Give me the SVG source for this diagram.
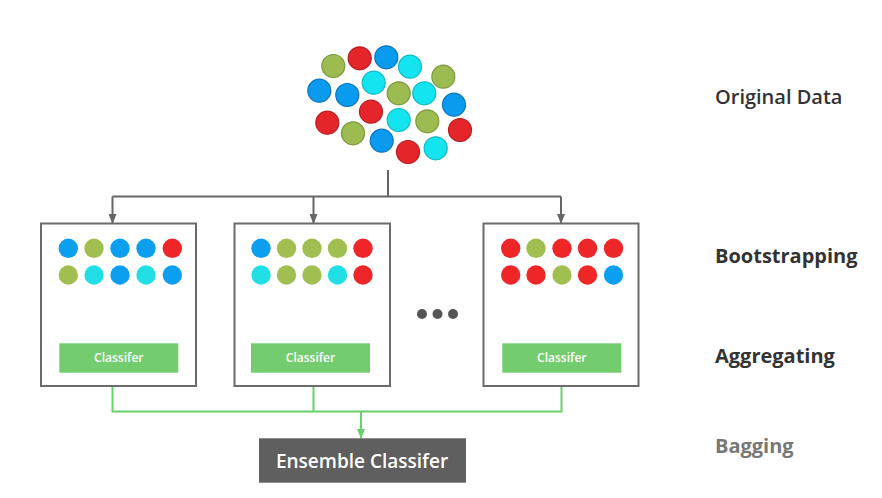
<svg xmlns="http://www.w3.org/2000/svg" width="882" height="498" viewBox="0 0 882 498">
<style>
.r{fill:#e4262a;stroke:#b81c20;stroke-width:1.2}
.b{fill:#0a9aee;stroke:#0a72bd;stroke-width:1.2}
.g{fill:#9cbb51;stroke:#7b983a;stroke-width:1.2}
.c{fill:#14e4ef;stroke:#0fb8c4;stroke-width:1.2}
.dr{fill:#ee2628}
.db{fill:#0d9fef}
.dg{fill:#a0bf50}
.dc{fill:#22dfe6}
.box{fill:#fff;stroke:#6b6b6b;stroke-width:2}
.cls{fill:#73cd6f}
.clt{font-family:"Open Sans","DejaVu Sans",sans-serif;font-size:12px;font-weight:600;fill:#fff;text-anchor:middle}
.lbl{font-family:"Open Sans","DejaVu Sans",sans-serif;font-size:20px;font-weight:600;fill:#333}
.bold{font-weight:bold}
.gc{fill:none;stroke:#6bd06a;stroke-width:2}
.dc2{fill:none;stroke:#666;stroke-width:2}
</style>
<defs>
<marker id="ag" markerWidth="10" markerHeight="8" refX="9" refY="4" orient="auto" markerUnits="userSpaceOnUse"><path d="M0,0 L10,4 L0,8 z" fill="#666"/></marker>
<marker id="agr" markerWidth="10" markerHeight="8" refX="9" refY="4" orient="auto" markerUnits="userSpaceOnUse"><path d="M0,0 L10,4 L0,8 z" fill="#6bd06a"/></marker>
</defs>
<rect width="882" height="498" fill="#fff"/>
<g id="original-data">
<circle class="g" cx="333.3" cy="66" r="11.5"/>
<circle class="r" cx="359.7" cy="58.3" r="11.5"/>
<circle class="b" cx="386.3" cy="57.3" r="11.5"/>
<circle class="c" cx="410" cy="66.7" r="11.5"/>
<circle class="g" cx="443.3" cy="76.7" r="11.5"/>
<circle class="c" cx="373.7" cy="82.7" r="11.5"/>
<circle class="b" cx="319.3" cy="90.7" r="11.5"/>
<circle class="b" cx="347.3" cy="95" r="11.5"/>
<circle class="g" cx="398.7" cy="93.3" r="11.5"/>
<circle class="c" cx="424.3" cy="93.3" r="11.5"/>
<circle class="b" cx="454" cy="104.7" r="11.5"/>
<circle class="r" cx="371" cy="111.7" r="11.5"/>
<circle class="r" cx="327.3" cy="122.7" r="11.5"/>
<circle class="c" cx="398.7" cy="120" r="11.5"/>
<circle class="g" cx="427.3" cy="121.3" r="11.5"/>
<circle class="r" cx="460" cy="130" r="11.5"/>
<circle class="g" cx="353" cy="133.3" r="11.5"/>
<circle class="b" cx="381.7" cy="140.7" r="11.5"/>
<circle class="r" cx="408" cy="152" r="11.5"/>
<circle class="c" cx="435.7" cy="148.3" r="11.5"/>
</g>
<g id="connectors">
<path class="dc2" d="M388,170 V196.5 M112.5,196.5 H561"/>
<path class="dc2" d="M112.5,196.5 V223" marker-end="url(#ag)"/>
<path class="dc2" d="M313.5,196.5 V223" marker-end="url(#ag)"/>
<path class="dc2" d="M561,196.5 V223" marker-end="url(#ag)"/>
<path class="gc" d="M112.5,373 V411.5 H561.5 V373 M313.5,373 V411.5"/>
<path class="gc" d="M361,411.5 V438" marker-end="url(#agr)"/>
</g>
<g id="sample-1">
<rect class="box" x="41" y="223.5" width="155" height="162.5"/>
<circle class="db" cx="68.3" cy="248.3" r="9.7"/>
<circle class="dg" cx="94" cy="248.3" r="9.7"/>
<circle class="db" cx="120" cy="248.3" r="9.7"/>
<circle class="db" cx="146" cy="248.3" r="9.7"/>
<circle class="dr" cx="172.3" cy="248.3" r="9.7"/>
<circle class="dg" cx="68.3" cy="275" r="9.7"/>
<circle class="dc" cx="94" cy="275" r="9.7"/>
<circle class="db" cx="120" cy="275" r="9.7"/>
<circle class="dc" cx="146" cy="275" r="9.7"/>
<circle class="db" cx="172.3" cy="275" r="9.7"/>
<rect class="cls" x="59.3" y="343.3" width="119" height="29.4"/>
<text class="clt" x="118.8" y="362.3">Classifer</text>
</g>
<g id="sample-2">
<rect class="box" x="234.5" y="223.5" width="155.5" height="162.5"/>
<circle class="db" cx="261" cy="248.3" r="9.7"/>
<circle class="dg" cx="286.5" cy="248.3" r="9.7"/>
<circle class="dg" cx="312" cy="248.3" r="9.7"/>
<circle class="dg" cx="337.5" cy="248.3" r="9.7"/>
<circle class="dr" cx="363" cy="248.3" r="9.7"/>
<circle class="dc" cx="261" cy="275" r="9.7"/>
<circle class="dg" cx="286.5" cy="275" r="9.7"/>
<circle class="dg" cx="312" cy="275" r="9.7"/>
<circle class="dc" cx="337.5" cy="275" r="9.7"/>
<circle class="dr" cx="363" cy="275" r="9.7"/>
<rect class="cls" x="251" y="343.3" width="119" height="29.4"/>
<text class="clt" x="310.5" y="362.3">Classifer</text>
</g>
<g id="ellipsis">
<circle cx="422" cy="314" r="5" fill="#555"/>
<circle cx="437.5" cy="314" r="5" fill="#555"/>
<circle cx="453" cy="314" r="5" fill="#555"/>
</g>
<g id="sample-n">
<rect class="box" x="483.5" y="223.5" width="155" height="162.5"/>
<circle class="dr" cx="510.7" cy="248.3" r="9.7"/>
<circle class="dg" cx="536" cy="248.3" r="9.7"/>
<circle class="dr" cx="562" cy="248.3" r="9.7"/>
<circle class="dr" cx="587.5" cy="248.3" r="9.7"/>
<circle class="dr" cx="613.5" cy="248.3" r="9.7"/>
<circle class="dr" cx="510.7" cy="275" r="9.7"/>
<circle class="dr" cx="536" cy="275" r="9.7"/>
<circle class="dg" cx="562" cy="275" r="9.7"/>
<circle class="dr" cx="587.5" cy="275" r="9.7"/>
<circle class="db" cx="613.5" cy="275" r="9.7"/>
<rect class="cls" x="502.3" y="343.3" width="119" height="29.4"/>
<text class="clt" x="561.8" y="362.3">Classifer</text>
</g>
<g id="ensemble">
<rect x="259" y="438.3" width="207" height="44.4" fill="#5f5f5f"/>
<text x="362" y="467.5" font-family="'Open Sans','DejaVu Sans',sans-serif" font-size="19" font-weight="600" fill="#fff" text-anchor="middle">Ensemble Classifer</text>
</g>
<g id="labels">
<text class="lbl" x="715" y="104.3">Original Data</text>
<text class="lbl bold" x="715" y="263.3">Bootstrapping</text>
<text class="lbl bold" x="715" y="363.3">Aggregating</text>
<text class="lbl bold" x="715" y="452.7" style="fill:#777">Bagging</text>
</g>
</svg>
